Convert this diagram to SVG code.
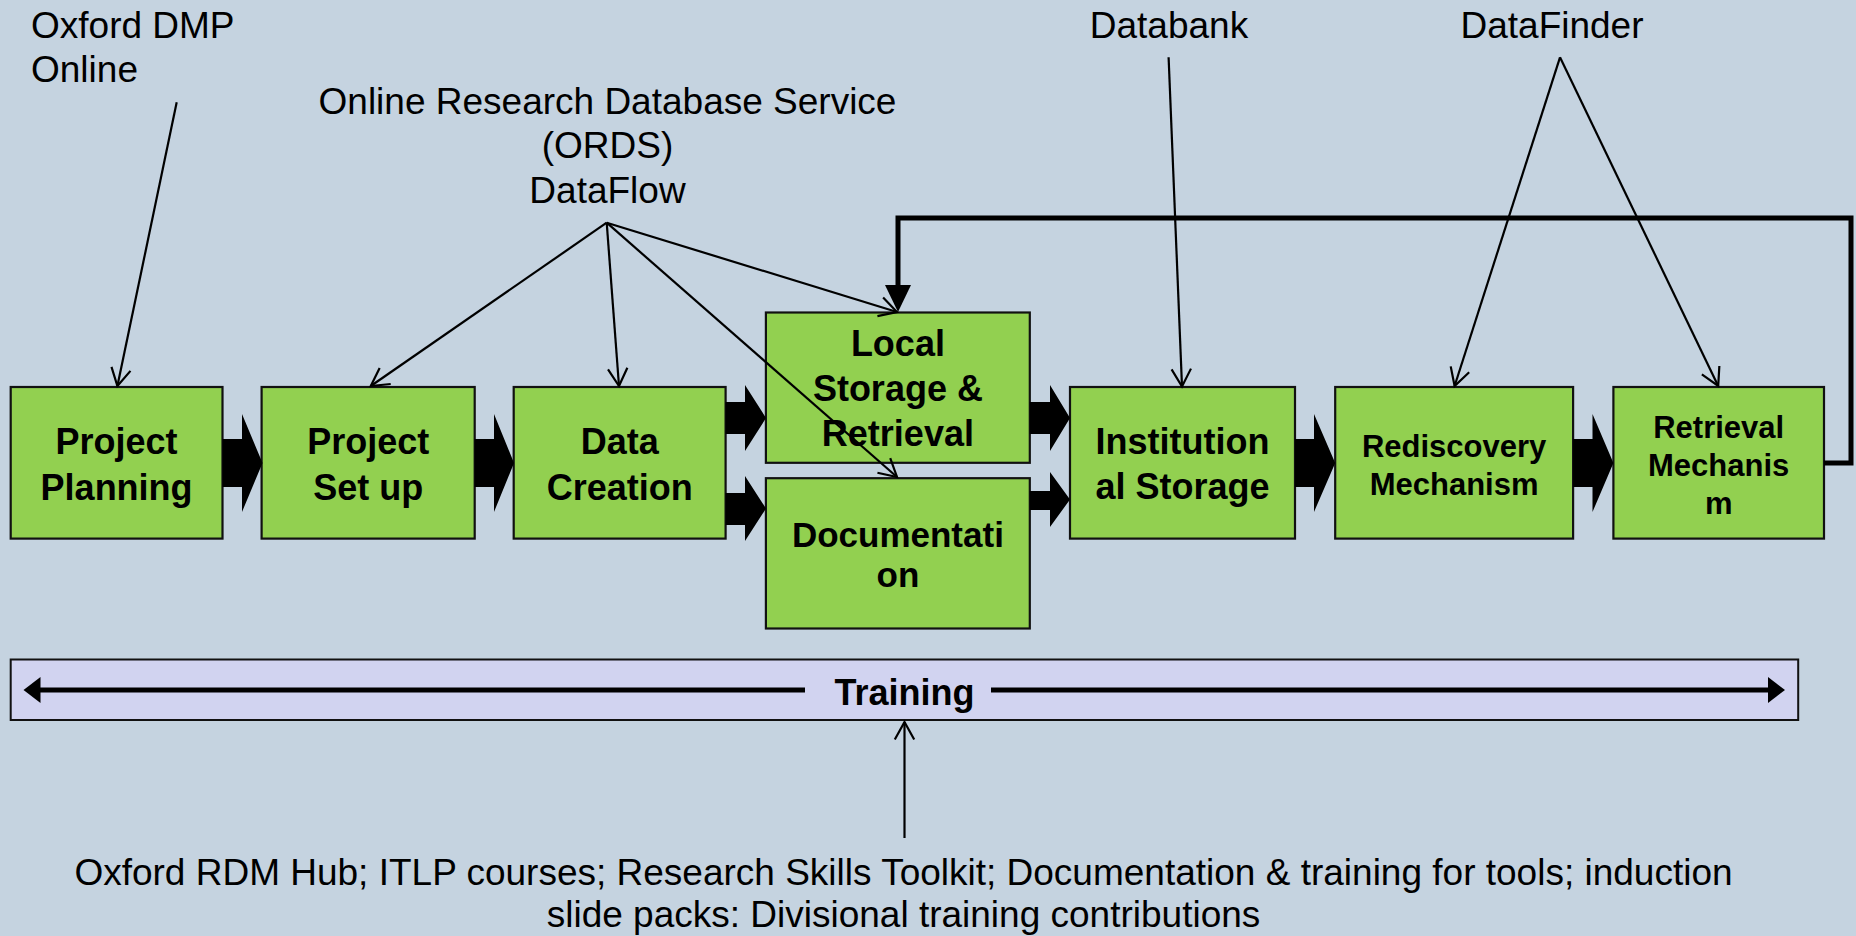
<svg xmlns="http://www.w3.org/2000/svg" width="1856" height="936" viewBox="0 0 1856 936">
<defs>
<style>
.box{fill:#92D050;stroke:#111;stroke-width:2.2}
.bt{font-family:"Liberation Sans",Arial,sans-serif;font-weight:bold;font-size:36px;fill:#000;text-anchor:middle}
.lbl{font-family:"Liberation Sans",Arial,sans-serif;font-size:37px;fill:#000}
.thin{fill:none;stroke:#000;stroke-width:2.2;marker-end:url(#open)}
.block{fill:#000}
.thick{fill:none;stroke:#000;stroke-width:5}
</style>
<marker id="open" markerUnits="userSpaceOnUse" markerWidth="24" markerHeight="24" refX="18" refY="10" orient="auto" overflow="visible">
<path d="M0.5,0.3 L18,10 L0.5,19.7" fill="none" stroke="#000" stroke-width="2.2"/>
</marker>
</defs>
<rect width="1856" height="936" fill="#C5D3E0"/>

<g id="training">
<rect x="10.7" y="659.5" width="1787.5" height="60.5" fill="#D1D3F0" stroke="#111" stroke-width="2"/>
<line x1="38" y1="690" x2="805" y2="690" class="thick"/>
<polygon points="23.5,690 40.5,677 40.5,703" class="block"/>
<line x1="991" y1="690" x2="1770" y2="690" class="thick"/>
<polygon points="1785,690 1768,677 1768,703" class="block"/>
<text x="904.5" y="705" class="bt">Training</text>
</g>

<g id="n-planning">
<rect x="10.7" y="387" width="211.8" height="151.6" class="box"/>
<text class="bt"><tspan x="116.6" y="454">Project</tspan><tspan x="116.6" y="500">Planning</tspan></text>
</g>
<g id="n-setup">
<rect x="261.6" y="387" width="213.1" height="151.6" class="box"/>
<text class="bt"><tspan x="368.2" y="454">Project</tspan><tspan x="368.2" y="500">Set up</tspan></text>
</g>
<g id="n-creation">
<rect x="513.7" y="387" width="211.9" height="151.6" class="box"/>
<text class="bt"><tspan x="619.7" y="454">Data</tspan><tspan x="619.7" y="500">Creation</tspan></text>
</g>
<g id="n-local">
<rect x="765.9" y="312.5" width="263.9" height="150.3" class="box"/>
<text class="bt"><tspan x="897.9" y="356">Local</tspan><tspan x="897.9" y="401">Storage &amp;</tspan><tspan x="897.9" y="446">Retrieval</tspan></text>
</g>
<g id="n-doc">
<rect x="765.9" y="478.2" width="263.9" height="150.3" class="box"/>
<text class="bt" style="font-size:35px"><tspan x="897.9" y="546.5">Documentati</tspan><tspan x="897.9" y="587">on</tspan></text>
</g>
<g id="n-inst">
<rect x="1070" y="387" width="225" height="151.6" class="box"/>
<text class="bt"><tspan x="1182.5" y="454">Institution</tspan><tspan x="1182.5" y="499">al Storage</tspan></text>
</g>
<g id="n-redisc">
<rect x="1335.2" y="387" width="237.9" height="151.6" class="box"/>
<text class="bt" style="font-size:31px"><tspan x="1454.1" y="456.7">Rediscovery</tspan><tspan x="1454.1" y="495">Mechanism</tspan></text>
</g>
<g id="n-retr">
<rect x="1613.4" y="387" width="210.6" height="151.6" class="box"/>
<text class="bt" style="font-size:31px"><tspan x="1718.7" y="437.7">Retrieval</tspan><tspan x="1718.7" y="475.7">Mechanis</tspan><tspan x="1718.7" y="513.5">m</tspan></text>
</g>

<g id="labels">
<text class="lbl"><tspan x="31" y="37.5">Oxford DMP</tspan><tspan x="31" y="81.7">Online</tspan></text>
<text class="lbl" text-anchor="middle"><tspan x="607.5" y="113.5">Online Research Database Service</tspan><tspan x="607.5" y="158">(ORDS)</tspan><tspan x="607.5" y="202.5">DataFlow</tspan></text>
<text class="lbl" x="1169" y="37.5" text-anchor="middle">Databank</text>
<text class="lbl" x="1552" y="37.5" text-anchor="middle">DataFinder</text>
<text class="lbl" text-anchor="middle"><tspan x="903.5" y="885">Oxford RDM Hub; ITLP courses; Research Skills Toolkit; Documentation &amp; training for tools; induction</tspan><tspan x="903.5" y="927">slide packs: Divisional training contributions</tspan></text>
</g>

<g id="connectors">
<polygon points="222.5,439 242,439 242,414 262.5,463 242,512 242,487 222.5,487" class="block"/>
<polygon points="474.7,439 494,439 494,414 514,463 494,512 494,487 474.7,487" class="block"/>
<polygon points="725.6,402 745,402 745,385 766,418 745,451 745,434 725.6,434" class="block"/>
<polygon points="725.6,493 745,493 745,476 766,508.5 745,541 745,525 725.6,525" class="block"/>
<polygon points="1029.8,402 1050,402 1050,385 1070,418 1050,451 1050,434 1029.8,434" class="block"/>
<polygon points="1029.8,491 1050,491 1050,472 1070,499.5 1050,527 1050,510 1029.8,510" class="block"/>
<polygon points="1295,439 1314,439 1314,414 1335.2,463 1314,512 1314,487 1295,487" class="block"/>
<polygon points="1573.1,439 1592.5,439 1592.5,414 1613.4,463 1592.5,512 1592.5,487 1573.1,487" class="block"/>

<polyline points="1824,463 1851,463 1851,218 898,218 898,287" class="thick"/>
<polygon points="885,285 911,285 898,312" class="block"/>

<line x1="176.7" y1="102.3" x2="117.4" y2="386" class="thin"/>
<line x1="606.7" y1="222.7" x2="370.8" y2="386" class="thin"/>
<line x1="606.7" y1="222.7" x2="619" y2="386" class="thin"/>
<line x1="606.7" y1="222.7" x2="897" y2="312" class="thin"/>
<line x1="606.7" y1="222.7" x2="897" y2="477" class="thin"/>
<line x1="1168.6" y1="57.3" x2="1182" y2="386.5" class="thin"/>
<line x1="1560" y1="57.3" x2="1454.6" y2="386" class="thin"/>
<line x1="1560" y1="57.3" x2="1718.2" y2="386" class="thin"/>
<line x1="904.5" y1="838" x2="904.5" y2="722" class="thin"/>
</g>
</svg>
